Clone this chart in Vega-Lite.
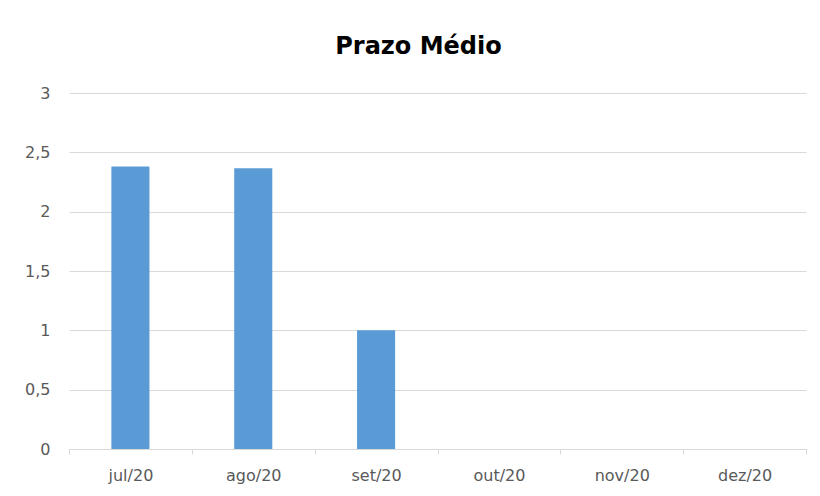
{
  "$schema": "https://vega.github.io/schema/vega-lite/v6.json",
  "autosize": {"type": "none"},
  "width": 737,
  "height": 356,
  "padding": {"left": 69, "top": 93, "right": 14, "bottom": 47},
  "background": "white",
  "title": {
    "text": "Prazo Médio",
    "font": "DejaVu Sans",
    "fontSize": 24,
    "fontWeight": "bold",
    "color": "#000000",
    "anchor": "middle",
    "baseline": "alphabetic",
    "offset": 7,
    "dx": -19
  },
  "data": {
    "values": [
      {"mes": "jul/20", "valor": 2.38},
      {"mes": "ago/20", "valor": 2.365},
      {"mes": "set/20", "valor": 1.0},
      {"mes": "out/20", "valor": 0},
      {"mes": "nov/20", "valor": 0},
      {"mes": "dez/20", "valor": 0}
    ]
  },
  "mark": {"type": "bar", "color": "#5B9BD5", "width": {"band": 0.31}},
  "encoding": {
    "x": {
      "field": "mes",
      "type": "nominal",
      "sort": null,
      "title": null,
      "scale": {"paddingInner": 0, "paddingOuter": 0},
      "axis": {
        "labelAngle": 0,
        "tickBand": "extent",
        "domainColor": "#D9D9D9",
        "tickColor": "#D9D9D9",
        "tickSize": 5,
        "labelFont": "DejaVu Sans",
        "labelFontSize": 16,
        "labelColor": "#595959",
        "labelPadding": 13,
        "grid": false
      }
    },
    "y": {
      "field": "valor",
      "type": "quantitative",
      "title": null,
      "scale": {"domain": [0, 3], "nice": false},
      "axis": {
        "values": [0, 0.5, 1, 1.5, 2, 2.5, 3],
        "labelExpr": "replace(format(datum.value, '~g'), '.', ',')",
        "domain": false,
        "ticks": false,
        "grid": true,
        "gridColor": "#D9D9D9",
        "labelFont": "DejaVu Sans",
        "labelFontSize": 16,
        "labelColor": "#595959",
        "labelPadding": 19
      }
    }
  },
  "config": {"view": {"stroke": null}}
}
